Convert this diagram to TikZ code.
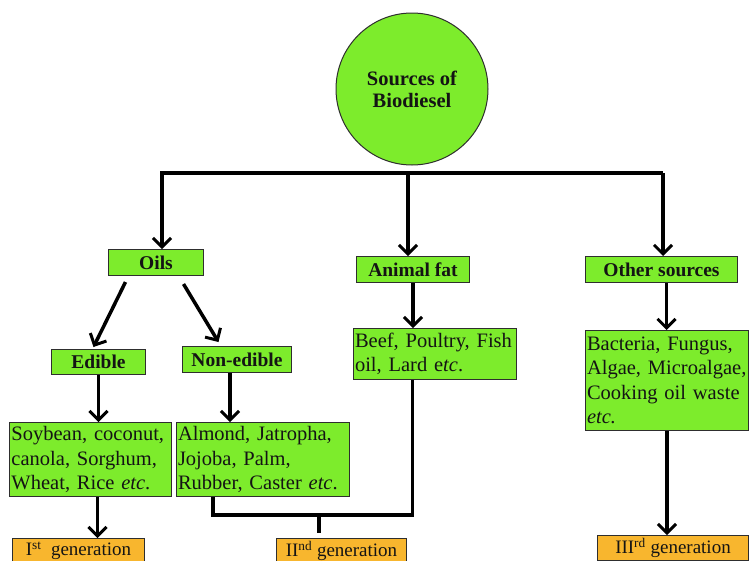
\documentclass[tikz,border=0pt]{standalone}
\usepackage{fontspec}
\setmainfont{Liberation Serif}
\usetikzlibrary{arrows.meta,calc}
\definecolor{boxgreen}{HTML}{7DEC2C}
\definecolor{boxorange}{HTML}{F8B62E}
\definecolor{edgegray}{HTML}{2E2E2E}
\definecolor{ink}{HTML}{141414}
\begin{document}
\begin{tikzpicture}[x=1pt,y=-1pt,
  gbox/.style={draw=edgegray,line width=1pt,fill=boxgreen,inner sep=0pt,anchor=north west,text=ink},
  lbl/.style={gbox,font=\fontsize{19.5}{22}\selectfont\bfseries},
  txt/.style={gbox,font=\fontsize{20.5}{24.5}\selectfont,align=left},
  gen/.style={draw=edgegray,line width=1pt,fill=boxorange,inner sep=0pt,anchor=north west,text=ink,font=\fontsize{19}{21}\selectfont},
  conn/.style={line width=3.5pt,draw=black},
  arr/.style={conn,-{Straight Barb[length=9pt,width=18pt,line width=3pt]}}]
\useasboundingbox (0,0) rectangle (750,560);
\fill[white] (0,0) rectangle (750,560);

\node[circle,draw=edgegray,line width=1pt,fill=boxgreen,minimum size=152pt,inner sep=0pt,text=ink,
  font=\fontsize{20.5}{22}\selectfont\bfseries,align=center] (src) at (412,89) {Sources of\\Biodiesel};

\node[lbl,minimum width=95pt,minimum height=26pt] (oils) at (108,249) {Oils};
\node[lbl,minimum width=113pt,minimum height=26pt] (animal) at (356,256) {Animal fat};
\node[lbl,minimum width=152pt,minimum height=26pt] (other) at (585,256) {Other sources};
\node[lbl,minimum width=94pt,minimum height=25pt] (edible) at (51,349) {Edible};
\node[lbl,minimum width=109pt,minimum height=26pt] (nonedible) at (182,346) {Non-edible};

\node[txt,minimum width=162pt,minimum height=74pt,text width=158pt] (soy) at (9,422)
  {Soybean, coconut,\\canola, Sorghum,\\Wheat, Rice \textit{etc}.};
\node[txt,minimum width=173pt,minimum height=74pt,text width=170pt] (almond) at (176,422)
  {Almond, Jatropha,\\Jojoba, Palm,\\Rubber, Caster \textit{etc}.};
\node[txt,minimum width=163pt,minimum height=51pt,text width=160pt] (beef) at (353,328)
  {Beef, Poultry, Fish\\oil, Lard e\textit{tc}.};
\node[txt,minimum width=163pt,minimum height=100pt,text width=160pt] (bact) at (585,330)
  {Bacteria, Fungus,\\Algae, Microalgae,\\Cooking oil waste\\\textit{etc.}};

\node[gen,minimum width=132pt,minimum height=25pt] (gen1) at (12,538) {I\textsuperscript{st}\ \ generation};
\node[gen,minimum width=130pt,minimum height=25pt] (gen2) at (276,538) {II\textsuperscript{nd} generation};
\node[gen,minimum width=151pt,minimum height=25pt] (gen3) at (597,535) {III\textsuperscript{rd} generation};

% top branching bar
\coordinate (b1) at (162,173);
\coordinate (b2) at (408,173);
\coordinate (b3) at (663,173);
\draw[arr] (b3) -- (b1) -- (b1 |- oils.north);
\draw[arr] (b2) -- (b2 |- animal.north);
\draw[arr] (b3) -- (b3 |- other.north);

% oils split
\draw[arr] ($(oils.south)+(-30.5,6)$) -- ($(edible.north)+(-5,-2)$);
\draw[arr] ($(oils.south)+(27.5,8)$) -- ($(nonedible.north)+(-18.5,-4)$);

\draw[arr] (edible.south) -- (edible.south |- soy.north);
\coordinate (ne) at ($(nonedible.south)+(-7,0)$);
\draw[arr] (ne) -- (ne |- almond.north);
\draw[arr] (animal.south) -- (animal.south |- beef.north);
\coordinate (os) at ($(other.south)+(5,0)$);
\draw[arr] (os) -- (os |- bact.north);

\coordinate (sy) at ($(soy.south)+(7,0)$);
\draw[arr] (sy) -- (sy |- gen1.north);
\draw[arr] (bact.south) -- (bact.south |- gen3.north);

% second generation join
\coordinate (al) at ($(almond.south west)+(37,0)$);
\coordinate (j) at (319,515);
\coordinate (bf) at ($(beef.south)+(-22.5,0)$);
\draw[conn] (al) -- (al |- j) -- (bf |- j) -- (bf);
\draw[conn] (j) -- (j |- 0,533);
\end{tikzpicture}
\end{document}
